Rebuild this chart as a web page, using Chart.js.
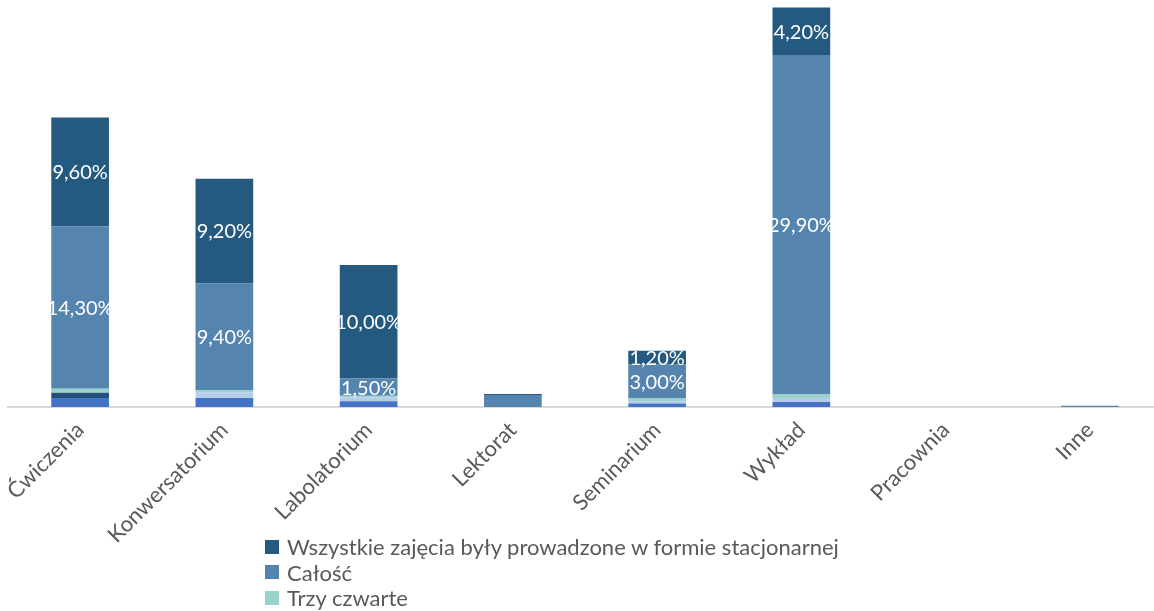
<!DOCTYPE html>
<html lang="pl">
<head>
<meta charset="utf-8">
<title>Forma prowadzenia zajęć</title>
<script src="https://cdn.jsdelivr.net/npm/chart.js@4.4.1/dist/chart.umd.min.js"></script>
<style>
    html, body { margin: 0; padding: 0; background: #fff; overflow: hidden; }
    .wrap { position: relative; width: 1162px; height: 611px; }
    #legend { position: absolute; left: 265px; top: 534px; font: 22px Lato, sans-serif; color: #595959; }
    .legend-item { display: flex; align-items: center; height: 25.5px; white-space: nowrap; }
    .legend-item span.box { display: inline-block; width: 14px; height: 14px; margin-right: 8px; }
</style>
</head>
<body>
<div class="wrap">
    <canvas id="chart" width="1162" height="580"></canvas>
    <div id="legend"></div>
</div>
<script>
"use strict";

const categories = ['Ćwiczenia', 'Konwersatorium', 'Labolatorium', 'Lektorat', 'Seminarium', 'Wykład', 'Pracownia', 'Inne'];

// values in %, stacked bottom -> top
const nieDotyczy   = [0.8, 0.8, 0.5, 0, 0.3, 0.45, 0, 0];
const jednaCzwarta = [0.45, 0, 0, 0, 0, 0, 0, 0];
const polowa       = [0, 0.5, 0.35, 0, 0.2, 0.35, 0, 0];
const trzyCzwarte  = [0.35, 0.2, 0.15, 0, 0.25, 0.3, 0, 0];
const calosc       = [14.3, 9.4, 1.5, 1.0, 3.0, 29.9, 0, 0.1];
const stacjonarne  = [9.6, 9.2, 10.0, 0.15, 1.2, 4.2, 0, 0];

const seriesNames = [
    'Nie dotyczy',
    'Jedna czwarta',
    'Połowa',
    'Trzy czwarte',
    'Całość',
    'Wszystkie zajęcia były prowadzone w formie stacjonarnej'
];
const seriesColors = ['#4472C4', '#22507A', '#B6CDEA', '#98D4CC', '#5585AE', '#245A80'];

document.addEventListener('DOMContentLoaded', () => {
    const values = [nieDotyczy, jednaCzwarta, polowa, trzyCzwarte, calosc, stacjonarne];

    const datasets = values.map((v, i) => ({
        label: seriesNames[i],
        data: v,
        backgroundColor: seriesColors[i],
        borderWidth: 0,
        categoryPercentage: 0.4,
        barPercentage: 1,
        showLabels: i >= 4
    }));

    // white value labels in the middle of the segments
    const valueLabels = {
        id: 'valueLabels',
        afterDatasetsDraw(chart) {
            const ctx = chart.ctx;
            ctx.save();
            ctx.font = '20px Lato, sans-serif';
            ctx.fillStyle = '#ffffff';
            ctx.textAlign = 'center';
            ctx.textBaseline = 'middle';
            chart.data.datasets.forEach((ds, di) => {
                if (!ds.showLabels) return;
                chart.getDatasetMeta(di).data.forEach((bar, i) => {
                    const v = ds.data[i];
                    if (v < 1.2) return;
                    const txt = v.toFixed(2).replace('.', ',') + '%';
                    ctx.fillText(txt, bar.x, (bar.y + bar.base) / 2 + 1);
                });
            });
            ctx.restore();
        }
    };

    const chart = new Chart(document.getElementById('chart'), {
        type: 'bar',
        data: { labels: categories, datasets: datasets },
        options: {
            responsive: false,
            animation: false,
            devicePixelRatio: 1,
            layout: { padding: { top: 4, left: 8, right: 0, bottom: 0 } },
            plugins: {
                legend: { display: false },
                tooltip: { enabled: false }
            },
            scales: {
                x: {
                    stacked: true,
                    grid: { display: false },
                    border: { color: '#D9D9D9', width: 2 },
                    ticks: {
                        color: '#595959',
                        font: { family: 'Lato', size: 22 },
                        maxRotation: 45,
                        minRotation: 45,
                        padding: 2
                    },
                    afterFit: (scale) => { scale.height = 173; }
                },
                y: {
                    stacked: true,
                    display: false,
                    min: 0,
                    max: 35.5
                }
            }
        },
        plugins: [valueLabels]
    });

    // legend, top series first (as in the original)
    const legend = document.getElementById('legend');
    chart.data.datasets.slice().reverse().forEach((ds) => {
        const row = document.createElement('div');
        row.className = 'legend-item';
        const box = document.createElement('span');
        box.className = 'box';
        box.style.background = ds.backgroundColor;
        row.appendChild(box);
        row.appendChild(document.createTextNode(ds.label));
        legend.appendChild(row);
    });
});
</script>
</body>
</html>
